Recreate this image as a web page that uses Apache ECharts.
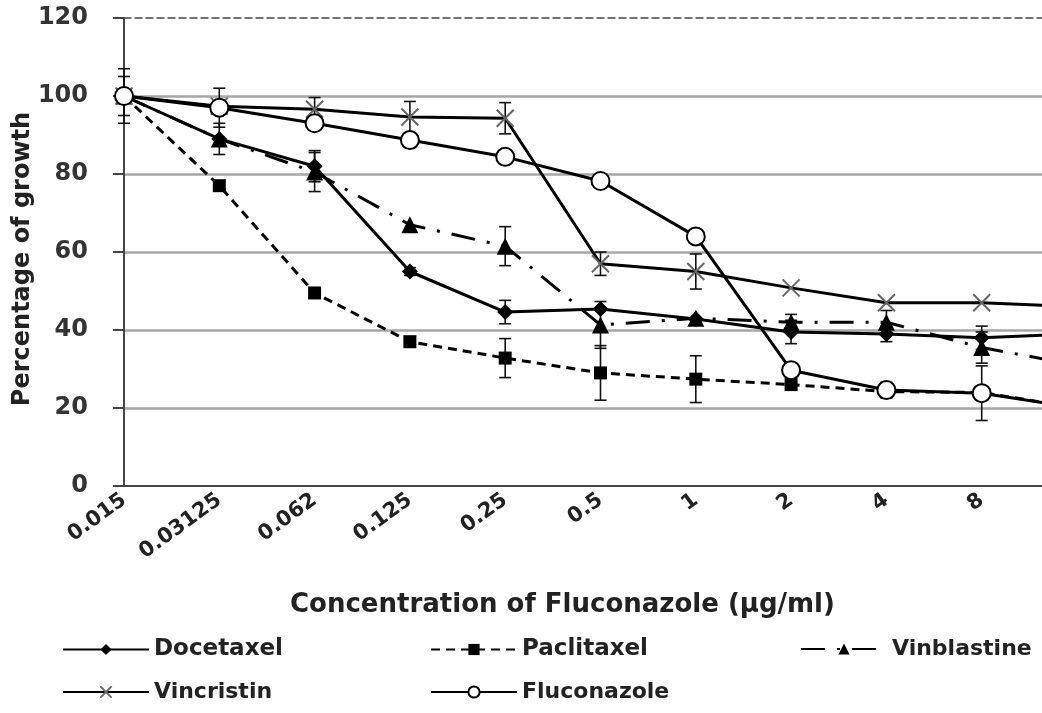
<!DOCTYPE html>
<html>
<head>
<meta charset="utf-8">
<script src="https://cdn.jsdelivr.net/npm/echarts@6/dist/echarts.min.js"></script>
<style>html,body{margin:0;padding:0;background:#fff;}#chart{width:1042px;height:713px;}</style>
</head>
<body>
<div id="chart"></div>
<script>
const categories = ['0.015','0.03125','0.062','0.125','0.25','0.5','1','2','4','8','16'];
const docetaxel   = [100, 89, 82, 55, 44.6, 45.4, 42.8, 39.5, 39, 38, 39];
const paclitaxel  = [100, 77, 49.5, 37, 32.8, 29, 27.4, 26, 24.2, 24, 20];
const vinblastine = [100, 89, 80.5, 67, 61.5, 41.3, 43, 42, 42, 35.5, 31];
const vincristin  = [100, 97.4, 96.6, 94.6, 94.3, 57, 55, 50.8, 47, 47, 46];
const fluconazole = [100, 97, 93, 88.7, 84.4, 78.2, 64, 29.7, 24.6, 23.8, 20];
const docetaxelErr   = [5, 4, 4, 1, 3, null, null, 3, 2, 3, null];
const paclitaxelErr  = [null, null, null, null, 5, 7, 6, null, null, null, null];
const vinblastineErr = [null, null, 5, null, 5, 6, null, 2, 3, 4, null];
const vincristinErr  = [null, null, 3, 4, 4, 3, 4.5, null, null, null, null];
const fluconazoleErr = [7, 5, null, null, null, null, null, null, 2, 7, null];
const yTicks = [0, 20, 40, 60, 80, 100, 120];

const FONT = 'DejaVu Sans';
function errData(vals, errs) {
  const out = [];
  errs.forEach((e, i) => { if (e != null) out.push([i, vals[i] - e, vals[i] + e]); });
  return out;
}
function errSeries(vals, errs) {
  return {
    type: 'custom', silent: true, z: 1,
    data: errData(vals, errs),
    renderItem: function (params, api) {
      const lo = api.coord([api.value(0), api.value(1)]);
      const hi = api.coord([api.value(0), api.value(2)]);
      const cw = 6;
      const st = { stroke: '#111', lineWidth: 1.6 };
      return { type: 'group', children: [
        { type: 'line', shape: { x1: lo[0], y1: lo[1], x2: hi[0], y2: hi[1] }, style: st },
        { type: 'line', shape: { x1: lo[0]-cw, y1: lo[1], x2: lo[0]+cw, y2: lo[1] }, style: st },
        { type: 'line', shape: { x1: hi[0]-cw, y1: hi[1], x2: hi[0]+cw, y2: hi[1] }, style: st }
      ]};
    }
  };
}
function legendItem(name, left, top, size) {
  return {
    data: [name], left: left, top: top,
    itemWidth: 86, itemHeight: 14, itemGap: 0, padding: 0, selectedMode: false,
    textStyle: { fontFamily: FONT, fontWeight: 'bold', fontSize: size, color: '#222' }
  };
}
const chart = echarts.init(document.getElementById('chart'), null, { renderer: 'canvas' });
chart.setOption({
  animation: false,
  backgroundColor: '#fff',
  grid: { left: 124, top: 18, bottom: 227, right: -35, containLabel: false, outerBoundsMode: 'none' },
  title: {
    text: 'Concentration of Fluconazole (µg/ml)',
    left: 290, top: 592, padding: 0,
    textStyle: { fontFamily: FONT, fontWeight: 'bold', fontSize: 26, color: '#222' }
  },
  legend: [
    legendItem('Docetaxel', 62, 638, 23),
    legendItem('Paclitaxel', 430, 638, 23),
    legendItem('Vinblastine', 800, 638, 22),
    legendItem('Vincristin', 62, 681, 22),
    legendItem('Fluconazole', 430, 681, 22)
  ],
  xAxis: [{
    type: 'category', data: categories, boundaryGap: false,
    axisLine: { lineStyle: { color: '#444', width: 2 } },
    axisTick: { show: false },
    axisLabel: { rotate: 36, margin: 12, fontFamily: FONT, fontWeight: 'bold', fontSize: 21, color: '#222' },
    splitLine: { show: false }
  }, {
    type: 'category', data: categories, boundaryGap: false, position: 'top',
    axisLine: { lineStyle: { color: '#444', width: 1.5, type: [7, 4] } },
    axisTick: { show: false }, axisLabel: { show: false }, splitLine: { show: false }
  }],
  yAxis: {
    type: 'value', min: yTicks[0], max: yTicks[yTicks.length - 1], interval: 20,
    name: 'Percentage of growth', nameLocation: 'middle', nameRotate: 90, nameGap: 89,
    nameMoveOverlap: false,
    nameTextStyle: { fontFamily: FONT, fontWeight: 'bold', fontSize: 24, color: '#222', padding: [0, 14, 0, 0] },
    axisLine: { show: true, lineStyle: { color: '#444', width: 2 } },
    axisTick: { show: true, length: 11, lineStyle: { color: '#444', width: 2 } },
    axisLabel: { margin: 36, fontFamily: FONT, fontWeight: 'bold', fontSize: 24, color: '#333' },
    splitLine: { show: true, showMinLine: false, showMaxLine: false, lineStyle: { color: '#a6a6a6', width: 2.5 } }
  },
  series: [
    errSeries(docetaxel, docetaxelErr),
    errSeries(paclitaxel, paclitaxelErr),
    errSeries(vinblastine, vinblastineErr),
    errSeries(vincristin, vincristinErr),
    errSeries(fluconazole, fluconazoleErr),
    {
      name: 'Docetaxel', type: 'line', data: docetaxel, z: 3,
      symbol: 'diamond', symbolSize: 16,
      lineStyle: { color: '#000', width: 3 }, itemStyle: { color: '#000' }
    },
    {
      name: 'Paclitaxel', type: 'line', data: paclitaxel, z: 3,
      symbol: 'rect', symbolSize: 13,
      lineStyle: { color: '#000', width: 3, type: [9, 6] }, itemStyle: { color: '#000' }
    },
    {
      name: 'Vinblastine', type: 'line', data: vinblastine, z: 3,
      symbol: 'triangle', symbolSize: 17,
      lineStyle: { color: '#000', width: 3, type: [24, 12, 3, 12] }, itemStyle: { color: '#000' }
    },
    {
      name: 'Vincristin', type: 'line', data: vincristin, z: 3,
      symbol: 'path://M0,0L10,10M10,0L0,10', symbolSize: 17, symbolKeepAspect: true,
      lineStyle: { color: '#000', width: 3 }, itemStyle: { color: 'rgba(0,0,0,0)', borderColor: '#666', borderWidth: 2 }
    },
    {
      name: 'Fluconazole', type: 'line', data: fluconazole, z: 4,
      symbol: 'emptyCircle', symbolSize: 18,
      lineStyle: { color: '#000', width: 3 }, itemStyle: { color: '#000', borderWidth: 2 }
    }
  ]
});
</script>
</body>
</html>
